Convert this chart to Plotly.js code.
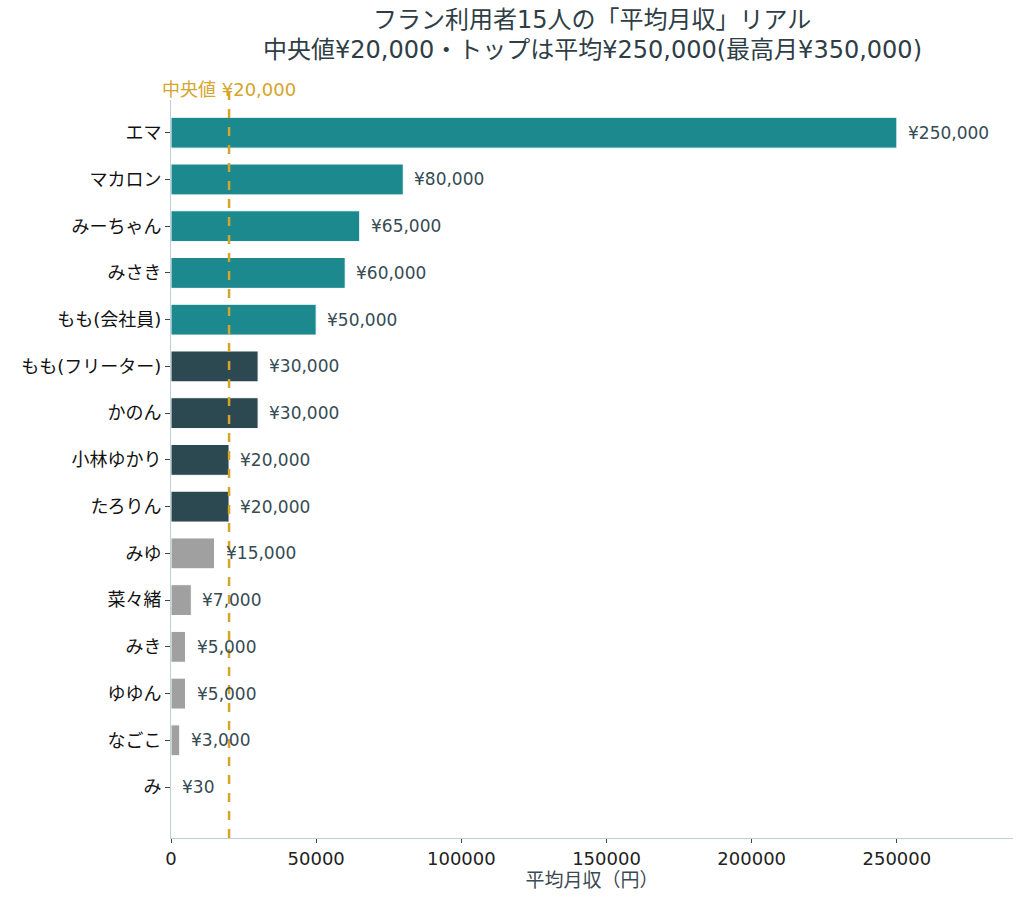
<!DOCTYPE html>
<html>
<head>
<meta charset="utf-8">
<script src="https://cdn.plot.ly/plotly-3.0.1.min.js"></script>
<style>
  body { margin: 0; background: #fff; }
  #chart { width: 1024px; height: 905px; }
</style>
</head>
<body>
<div id="chart"></div>
<script>
// names top to bottom
var names = ["エマ", "マカロン", "みーちゃん", "みさき", "もも(会社員)", "もも(フリーター)", "かのん",
  "小林ゆかり", "たろりん", "みゆ", "菜々緒", "みき", "ゆゆん", "なごこ", "み"];
var incomes = [250000, 80000, 65000, 60000, 50000, 30000, 30000, 20000, 20000, 15000, 7000, 5000, 5000, 3000, 30];
var groups = ["top", "top", "top", "top", "top", "mid", "mid", "mid", "mid", "low", "low", "low", "low", "low", "low"];
var median = 20000;
var titleLines = ["フラン利用者15人の「平均月収」リアル", "中央値¥20,000・トップは平均¥250,000(最高月¥350,000)"];

var groupColors = { top: "#1b898d", mid: "#2c4850", low: "#a0a0a0" };
var fontFam = "'DejaVu Sans', 'Noto Sans CJK JP', sans-serif";

var barColors = groups.map(function(g){ return groupColors[g]; });

var data = [{
  type: "bar",
  orientation: "h",
  x: incomes,
  y: names,
  width: 0.66,
  marker: { color: barColors, line: { color: "#ffffff", width: 1 } },
  hoverinfo: "none"
}];

var annotations = [];
for (var i = 0; i < names.length; i++) {
  annotations.push({
    x: incomes[i], y: names[i], xref: "x", yref: "y",
    text: "¥" + incomes[i].toLocaleString("en-US"),
    showarrow: false, xanchor: "left", xshift: 9,
    font: { family: fontFam, size: 17, color: "#364b54" }
  });
}
annotations.push({
  x: median, y: 1, xref: "x", yref: "paper",
  text: "中央値 ¥20,000", showarrow: false,
  xanchor: "center", yanchor: "bottom", yshift: -2,
  font: { family: fontFam, size: 18, color: "#d4a52a" }
});
// two-line title, placed above the plot area
var plotH = 905 - 100 - 67;
var titleOffsets = [80, 50];
for (var t = 0; t < titleLines.length; t++) {
  annotations.push({
    x: 0.5, y: 1 + titleOffsets[t] / plotH, xref: "paper", yref: "paper",
    text: titleLines[t], showarrow: false, xanchor: "center", yanchor: "middle",
    font: { family: fontFam, size: 24, color: "#2f3e46" }
  });
}

var layout = {
  width: 1024, height: 905,
  margin: { l: 171, r: 11, t: 100, b: 67 },
  paper_bgcolor: "#fff", plot_bgcolor: "#fff",
  font: { family: fontFam, color: "#222" },
  showlegend: false,
  xaxis: {
    range: [0, 290000],
    showgrid: false, zeroline: false,
    showline: true, linecolor: "#bcd3d6", linewidth: 1,
    ticks: "outside", ticklen: 4, tickcolor: "#444",
    tickvals: [0, 50000, 100000, 150000, 200000, 250000],
    ticktext: ["0", "50000", "100000", "150000", "200000", "250000"],
    tickfont: { size: 18, color: "#222" },
    title: { text: "平均月収（円）", standoff: 5, font: { size: 19, color: "#3b4a52" } }
  },
  yaxis: {
    type: "category",
    range: [15.09, -0.7],
    showgrid: false, zeroline: false,
    showline: true, linecolor: "#bcd3d6", linewidth: 1,
    ticks: "outside", ticklen: 5, tickcolor: "#444",
    tickfont: { size: 18, color: "#111" }
  },
  shapes: [{
    type: "line", xref: "x", yref: "paper",
    x0: median, x1: median, y0: 0, y1: 1.012,
    line: { color: "#d4a52a", width: 2.5, dash: "dash" }
  }],
  annotations: annotations
};

Plotly.newPlot("chart", data, layout, { displayModeBar: false });
</script>
</body>
</html>
